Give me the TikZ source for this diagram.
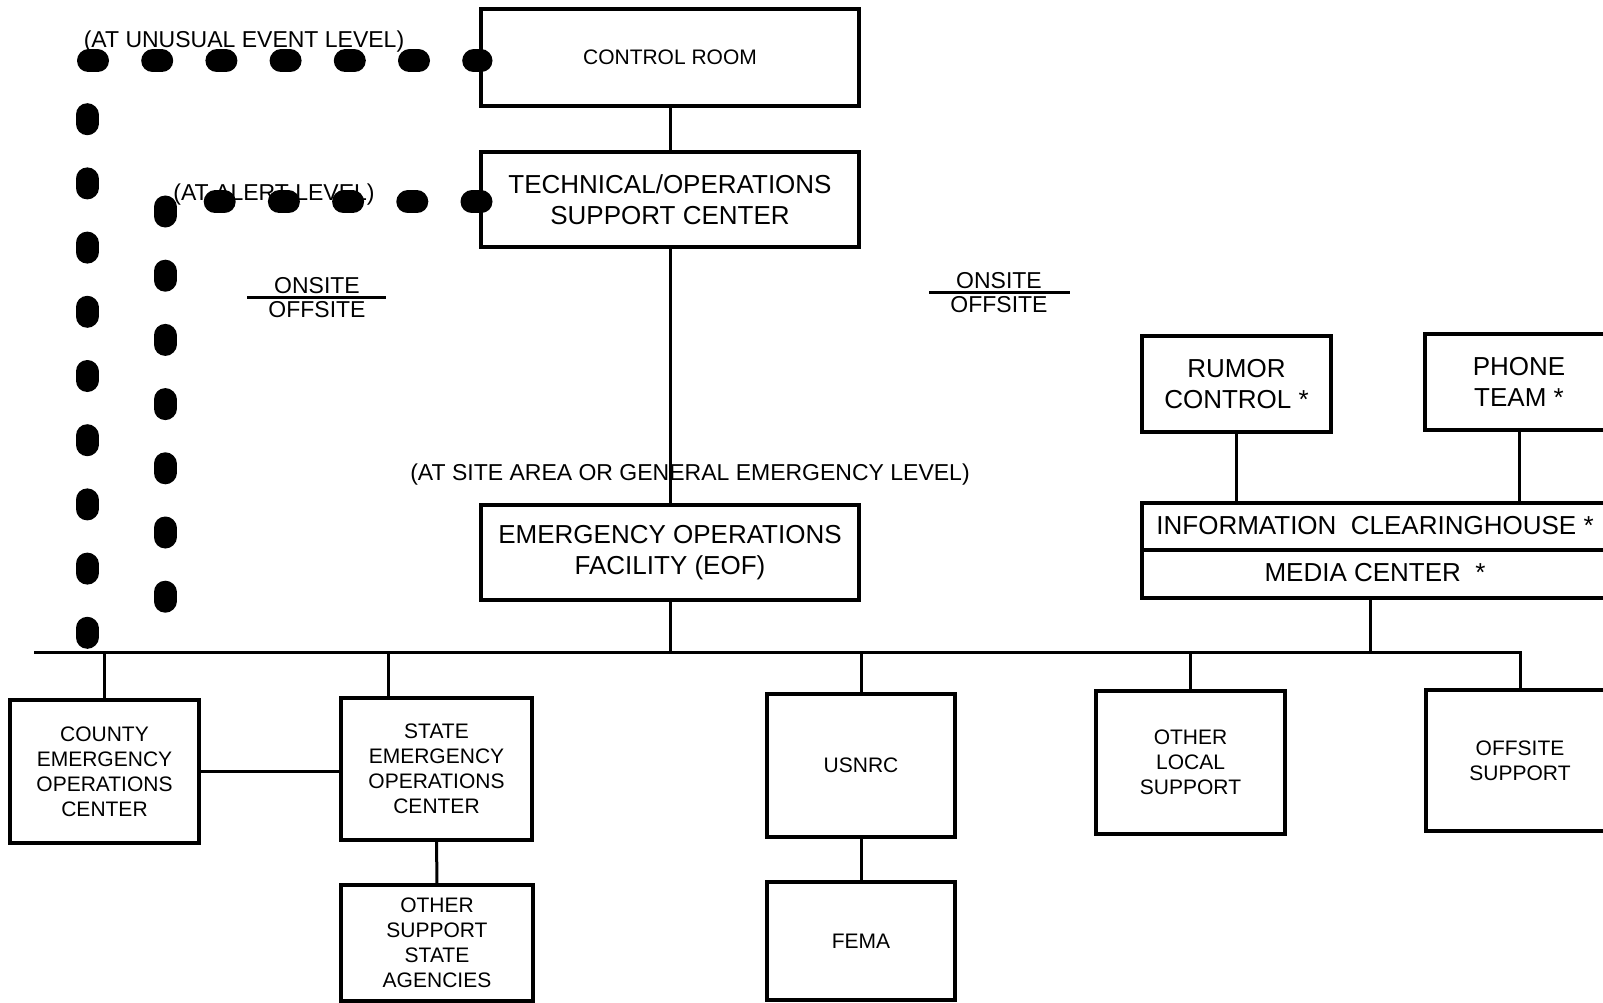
\documentclass[tikz,border=0pt]{standalone}
\usepackage{fontspec}
\setmainfont{Liberation Sans}
\usetikzlibrary{calc,positioning}
\tikzset{
  ep box/.style={draw,line width=3.5pt,align=center,inner sep=0pt,outer sep=0pt,font=\fontsize{21}{25}\selectfont},
  ep big/.style={ep box,font=\fontsize{26}{31}\selectfont},
  ep link/.style={line width=3pt},
  ep dots/.style={line width=23pt,line cap=round,dash pattern=on 9pt off 55.2pt},
  ep note/.style={font=\fontsize{23}{24}\selectfont,inner sep=0pt}
}
\begin{document}
\begin{tikzpicture}[x=1pt,y=-1pt]
  \useasboundingbox (0,0) rectangle (1603,1003);
  \clip (0,0) rectangle (1603,1003);

  % onsite centers
  \node[ep box,minimum width=378pt,minimum height=97pt] (ctrl) at (670,57.5) {CONTROL ROOM};
  \node[ep big,minimum width=378pt,minimum height=95pt] (tsc) at (670,199.5) {TECHNICAL/OPERATIONS\\SUPPORT CENTER};
  \node[ep big,minimum width=378pt,minimum height=95pt] (eof) at (670,552.5) {EMERGENCY OPERATIONS\\FACILITY (EOF)};

  % offsite agencies
  \node[ep box,minimum width=189pt,minimum height=143pt] (county) at (104.5,771.5) {COUNTY\\EMERGENCY\\OPERATIONS\\CENTER};
  \node[ep box,minimum width=191pt,minimum height=142pt] (state) at (436.5,769) {STATE\\EMERGENCY\\OPERATIONS\\CENTER};
  \node[ep box,minimum width=192pt,minimum height=116pt] (agencies) at (437,943) {OTHER\\SUPPORT\\STATE\\AGENCIES};
  \node[ep box,minimum width=188pt,minimum height=143pt] (usnrc) at (861,765.5) {USNRC};
  \node[ep box,minimum width=188pt,minimum height=118pt] (fema) at (861,941) {FEMA};
  \node[ep box,minimum width=189pt,minimum height=143pt] (local) at (1190.5,762.5) {OTHER\\LOCAL\\SUPPORT};
  \node[ep box,minimum width=188pt,minimum height=141pt] (offsite) at (1520,760.5) {OFFSITE\\SUPPORT};

  % public information
  \node[ep big,minimum width=189pt,minimum height=96pt] (rumor) at (1236.5,384) {RUMOR\\CONTROL *};
  \node[ep big,minimum width=188pt,minimum height=96pt] (phone) at (1519,382) {PHONE\\TEAM *};
  \node[ep big,minimum width=466pt,minimum height=47pt,text depth=3pt] (info) at (1375,526.5) {INFORMATION\ \ CLEARINGHOUSE *};
  \node[ep big,minimum width=466pt,minimum height=48pt,text depth=4pt,below=0pt of info] (media) {MEDIA CENTER\ \ *};

  % level notes
  \node[ep note] (uelabel) at (244,42) {(AT UNUSUAL EVENT LEVEL)};
  \node[ep note] (allabel) at (274,195) {(AT ALERT LEVEL)};
  \node[ep note] (salabel) at (690,475) {(AT SITE AREA OR GENERAL EMERGENCY LEVEL)};

  % onsite / offsite marks
  \node[ep note] (onL) at (317,286) {ONSITE};
  \node[ep note] (offL) at (317,310) {OFFSITE};
  \draw[ep link] (247,297) -- (386,297);
  \node[ep note] (onR) at (999,281) {ONSITE};
  \node[ep note] (offR) at (999,305) {OFFSITE};
  \draw[ep link] (929,292) -- (1070,292);

  % bus and links
  \coordinate (busL) at (34,652);
  \coordinate (stateTop) at ([xshift=-48.5pt]state.north);
  \coordinate (mediaFoot) at ([xshift=-5pt]media.south);
  \draw[ep link] (busL) -| (offsite.north);
  \draw[ep link] (ctrl.south) -- (tsc.north);
  \draw[ep link] (tsc.south) -- (eof.north);
  \draw[ep link] (eof.south) -- (eof.south |- busL);
  \draw[ep link] (mediaFoot) -- (mediaFoot |- busL);
  \draw[ep link] (stateTop) -- (stateTop |- busL);
  \foreach \n in {county,usnrc,local}
    \draw[ep link] (\n.north) -- (\n.north |- busL);
  \draw[ep link] (county.east) -- (county.east -| state.west);
  \draw[ep link] (state.south) -- (agencies.north);
  \draw[ep link] (usnrc.south) -- (fema.north);
  \draw[ep link] (rumor.south) -- (rumor.south |- info.north);
  \draw[ep link] (phone.south) -- (phone.south |- info.north);

  % early activation
  \coordinate (uebus) at (87,652);
  \coordinate (albus) at (165,652);
  \draw[ep dots,dash phase=1.7pt] ([yshift=-3.5pt]ctrl.west) -| (uebus);
  \draw[ep dots] ([yshift=-2.5pt]tsc.west) -| (albus);
\end{tikzpicture}
\end{document}
